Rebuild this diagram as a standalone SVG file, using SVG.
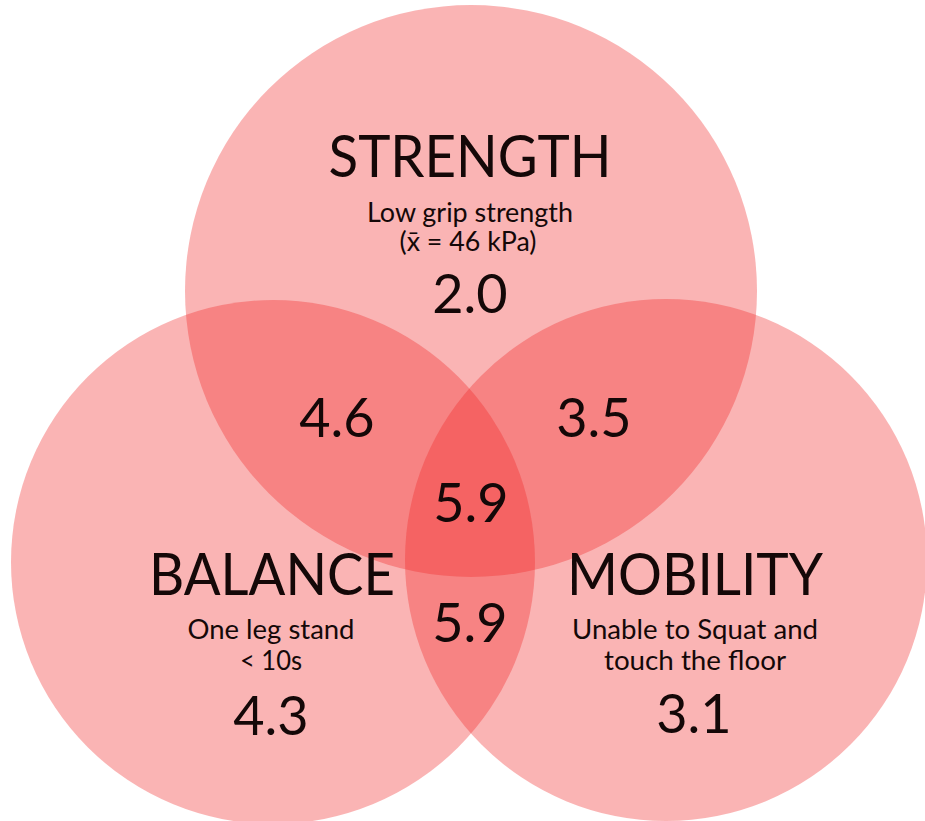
<svg xmlns="http://www.w3.org/2000/svg" width="925" height="821" viewBox="0 0 925 821">
  <style>
    .set { fill: #F02828; fill-opacity: 0.35; }
    text { font-family: Lato, "Open Sans", "Liberation Sans", sans-serif; fill: #140808; text-anchor: middle; }
    .title { font-size: 59px; }
    .note { font-size: 26px; }
    .num { font-size: 54px; }
  </style>
  <rect width="925" height="821" fill="#ffffff"/>

  <!-- three translucent sets; overlaps darken naturally -->
  <g id="strength">
    <circle class="set" cx="471" cy="291" r="286"/>
    <text class="title" x="470" y="177" textLength="283" lengthAdjust="spacingAndGlyphs">STRENGTH</text>
    <text class="note" x="470" y="222" textLength="206" lengthAdjust="spacingAndGlyphs">Low grip strength</text>
    <text class="note" x="468" y="251" textLength="137" lengthAdjust="spacingAndGlyphs">(x̄ = 46 kPa)</text>
    <text class="num" x="470" y="313">2.0</text>
  </g>
  <g id="balance">
    <circle class="set" cx="273" cy="562" r="262"/>
    <text class="title" x="272" y="595" textLength="246" lengthAdjust="spacingAndGlyphs">BALANCE</text>
    <text class="note" x="271" y="639" textLength="167" lengthAdjust="spacingAndGlyphs">One leg stand</text>
    <text class="note" x="271" y="670" textLength="62" lengthAdjust="spacingAndGlyphs">&lt; 10s</text>
    <text class="num" x="271" y="735">4.3</text>
  </g>
  <g id="mobility">
    <circle class="set" cx="666" cy="560" r="261"/>
    <text class="title" x="695" y="595" textLength="256" lengthAdjust="spacingAndGlyphs">MOBILITY</text>
    <text class="note" x="695" y="639" textLength="246" lengthAdjust="spacingAndGlyphs">Unable to Squat and</text>
    <text class="note" x="695" y="670" textLength="182" lengthAdjust="spacingAndGlyphs">touch the floor</text>
    <text class="num" x="694" y="733">3.1</text>
  </g>

  <!-- overlap values -->
  <g id="strength-balance"><text class="num" x="337" y="437">4.6</text></g>
  <g id="strength-mobility"><text class="num" x="594" y="437">3.5</text></g>
  <g id="all-three"><text class="num" x="471" y="522">5.9</text></g>
  <g id="balance-mobility"><text class="num" x="470" y="642">5.9</text></g>
</svg>
